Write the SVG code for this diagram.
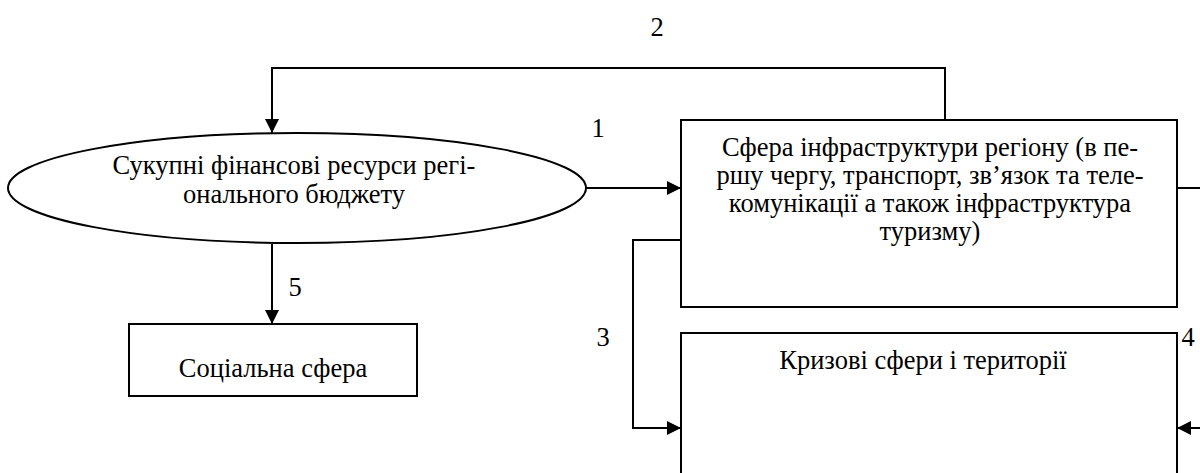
<svg xmlns="http://www.w3.org/2000/svg" width="1200" height="473" viewBox="0 0 1200 473">
<style>
.n{fill:#fff;stroke:#000;stroke-width:2}
.c{fill:none;stroke:#000;stroke-width:2}
text{font-family:"Liberation Serif","Times New Roman",serif;font-size:26.5px;fill:#000}
.m{text-anchor:middle}
.b{font-size:26.5px}
</style>
<defs>
<marker id="ah" viewBox="0 0 14 14" refX="14" refY="7" markerWidth="14" markerHeight="14" markerUnits="userSpaceOnUse" orient="auto">
<path d="M0,0 L14,7 L0,14 z" fill="#000"/>
</marker>
</defs>
<g id="connectors">
<polyline class="c" points="945,120 945,68 272,68 272,133" marker-end="url(#ah)"/>
<line class="c" x1="585" y1="188" x2="681" y2="188" marker-end="url(#ah)"/>
<line class="c" x1="272" y1="244" x2="272" y2="324" marker-end="url(#ah)"/>
<polyline class="c" points="681,240 633,240 633,428 681,428" marker-end="url(#ah)"/>
<polyline class="c" points="1177,188 1201,188"/>
<polyline class="c" points="1201,428 1177,428" marker-end="url(#ah)"/>
<text x="657" y="36" class="m">2</text>
<text x="598" y="137" class="m">1</text>
<text x="603" y="346" class="m">3</text>
<text x="1188" y="346" class="m">4</text>
<text x="295" y="296" class="m">5</text>
</g>
<g id="budget">
<ellipse class="n" cx="297" cy="188" rx="289" ry="55"/>
<text x="294" y="174" class="m">Сукупні фінансові ресурси регі-</text>
<text x="294" y="203" class="m">онального бюджету</text>
</g>
<g id="infra">
<rect class="n" x="681" y="120" width="496" height="187"/>
<text x="930" y="156" class="m b">Сфера інфраструктури регіону (в пе-</text>
<text x="930" y="184" class="m b">ршу чергу, транспорт, зв’язок та теле-</text>
<text x="930" y="212" class="m b">комунікації а також інфраструктура</text>
<text x="930" y="240" class="m b">туризму)</text>
</g>
<g id="crisis">
<rect class="n" x="681" y="333" width="496" height="150"/>
<text x="923" y="369" class="m">Кризові сфери і території</text>
</g>
<g id="social">
<rect class="n" x="129" y="324" width="288" height="72"/>
<text x="273" y="377" class="m">Соціальна сфера</text>
</g>
</svg>
